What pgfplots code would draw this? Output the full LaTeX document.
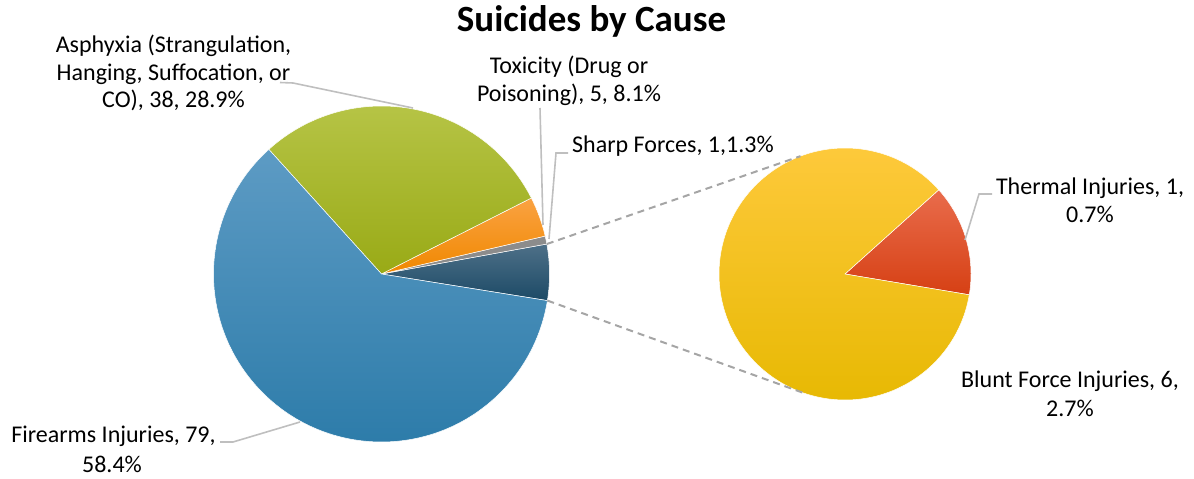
\documentclass[border=0pt]{standalone}
\usepackage{pgfplots}
\pgfplotsset{compat=1.18}
\usepackage{pgfplotstable}
\usetikzlibrary{calc}
\usepackage{fontspec}
\setmainfont{Carlito}

\definecolor{fireT}{RGB}{93,155,196}
\definecolor{fireB}{RGB}{42,122,168}
\definecolor{asphT}{RGB}{182,196,70}
\definecolor{asphB}{RGB}{153,170,22}
\definecolor{toxT}{RGB}{250,162,66}
\definecolor{toxB}{RGB}{240,136,0}
\definecolor{sharpC}{RGB}{140,140,140}
\definecolor{othT}{RGB}{78,112,136}
\definecolor{othB}{RGB}{28,74,102}
\definecolor{bluT}{RGB}{255,202,62}
\definecolor{bluM}{RGB}{252,200,0}
\definecolor{bluB}{RGB}{230,184,0}
\definecolor{therT}{RGB}{233,108,76}
\definecolor{therB}{RGB}{214,64,20}
\definecolor{leader}{RGB}{191,191,191}
\definecolor{dashc}{RGB}{165,165,165}

% main pie: counts per cause (Other = Thermal + Blunt)
\pgfplotstableread{
label count
Other 7
Sharp 1
Toxicity 5
Asphyxia 38
Firearms 79
}\maindata
% secondary pie
\pgfplotstableread{
label count
Thermal 1
Blunt 6
}\subdata

\newcommand\getcount[3]{\pgfplotstablegetelem{#1}{count}\of#2\global\let#3\pgfplotsretval}
\getcount{0}{\maindata}\cOther
\getcount{1}{\maindata}\cSharp
\getcount{2}{\maindata}\cTox
\getcount{3}{\maindata}\cAsph
\getcount{4}{\maindata}\cFire
\getcount{0}{\subdata}\cTher
\getcount{1}{\subdata}\cBlu
\pgfmathsetmacro\tot{\cOther+\cSharp+\cTox+\cAsph+\cFire}
\pgfmathsetmacro\aA{-9.1}
\pgfmathsetmacro\aB{\aA+360*(\cOther/\tot)}
\pgfmathsetmacro\aC{\aB+360*(\cSharp/\tot)}
\pgfmathsetmacro\aD{\aC+360*(\cTox/\tot)}
\pgfmathsetmacro\aE{\aD+360*(\cAsph/\tot)}
\pgfmathsetmacro\aF{\aE+360*(\cFire/\tot)}
\pgfmathsetmacro\stot{\cTher+\cBlu}
\pgfmathsetmacro\bA{-9.5}
\pgfmathsetmacro\bB{\bA+360*(\cTher/\stot)}
\pgfmathsetmacro\bC{\bB+360*(\cBlu/\stot)}

\newcommand\pieslice[7]{% cx cy r a1 a2 topcolor bottomcolor
  \shadedraw[top color=#6,bottom color=#7,draw=white,line width=0.5pt]
    (axis cs:#1,#2) -- ++(#4:#3pt) arc[start angle=#4,end angle=#5,radius=#3pt] -- cycle;}

\newcommand\lbl{\fontsize{24pt}{28pt}\selectfont}

\begin{document}
\begin{tikzpicture}
\begin{axis}[
  width=1194pt, height=479pt, scale only axis,
  xmin=0, xmax=1194, ymin=0, ymax=479,
  hide axis, clip=false,
]
% main pie
\pieslice{381.5}{205}{168}{\aA}{\aB}{othT}{othB}
\pieslice{381.5}{205}{168}{\aB}{\aC}{sharpC}{sharpC}
\pieslice{381.5}{205}{168}{\aC}{\aD}{toxT}{toxB}
\pieslice{381.5}{205}{168}{\aD}{\aE}{asphT}{asphB}
\pieslice{381.5}{205}{168}{\aE}{\aF}{fireT}{fireB}
% secondary pie
\pieslice{845}{205}{126}{\bA}{\bB}{therT}{therB}
\shadedraw[top color=bluT,middle color=bluM,bottom color=bluB,draw=white,line width=0.5pt]
  (axis cs:845,205) -- ++(\bB:126pt) arc[start angle=\bB,end angle=\bC,radius=126pt] -- cycle;
% connectors
\draw[dashc,line width=2pt,dash pattern=on 7pt off 5pt]
  ($(axis cs:381.5,205)+(\aB:168pt)$) -- ($(axis cs:845,205)+(110.7:126pt)$);
\draw[dashc,line width=2pt,dash pattern=on 7pt off 5pt]
  ($(axis cs:381.5,205)+(\aA:168pt)$) -- ($(axis cs:845,205)+(251.5:126pt)$);
% leader lines
\draw[leader,line width=1.6pt] (axis cs:280,396.5) -- (axis cs:293,396) -- (axis cs:413,371);
\draw[leader,line width=1.6pt] (axis cs:540,371) -- (axis cs:543,254);
\draw[leader,line width=1.6pt] (axis cs:568,326) -- (axis cs:556,326) -- (axis cs:549,240);
\draw[leader,line width=1.6pt] (axis cs:992,285) -- (axis cs:979,285) -- (axis cs:965,239);
\draw[leader,line width=1.6pt] (axis cs:220,37) -- (axis cs:233,37) -- (axis cs:300,57);
% title
\node[anchor=base,inner sep=0pt,font=\fontsize{37pt}{40pt}\selectfont\bfseries] at (axis cs:591.5,447) {Suicides by Cause};
% labels
\node[anchor=base,inner sep=0pt,font=\lbl] at (axis cs:173.5,426) {Asphyxia (Strangulation,};
\node[anchor=base,inner sep=0pt,font=\lbl] at (axis cs:173.5,398.5) {Hanging, Suffocation, or};
\node[anchor=base,inner sep=0pt,font=\lbl] at (axis cs:173.5,371) {CO), 38, 28.9\%};
\node[anchor=base,inner sep=0pt,font=\lbl] at (axis cs:569,405) {Toxicity (Drug or};
\node[anchor=base,inner sep=0pt,font=\lbl] at (axis cs:569,377) {Poisoning), 5, 8.1\%};
\node[anchor=base west,inner sep=0pt,font=\lbl] at (axis cs:572,326) {Sharp Forces, 1,1.3\%};
\node[anchor=base,inner sep=0pt,font=\lbl] at (axis cs:1090,284) {Thermal Injuries, 1,};
\node[anchor=base,inner sep=0pt,font=\lbl] at (axis cs:1090,256) {0.7\%};
\node[anchor=base,inner sep=0pt,font=\lbl] at (axis cs:1070,91) {Blunt Force Injuries, 6,};
\node[anchor=base,inner sep=0pt,font=\lbl] at (axis cs:1070,62) {2.7\%};
\node[anchor=base,inner sep=0pt,font=\lbl] at (axis cs:113.5,36) {Firearms Injuries, 79,};
\node[anchor=base,inner sep=0pt,font=\lbl] at (axis cs:112,7) {58.4\%};
\end{axis}
\pgfresetboundingbox
\path[use as bounding box] (0,0) rectangle (1194pt,479pt);
\end{tikzpicture}
\end{document}
